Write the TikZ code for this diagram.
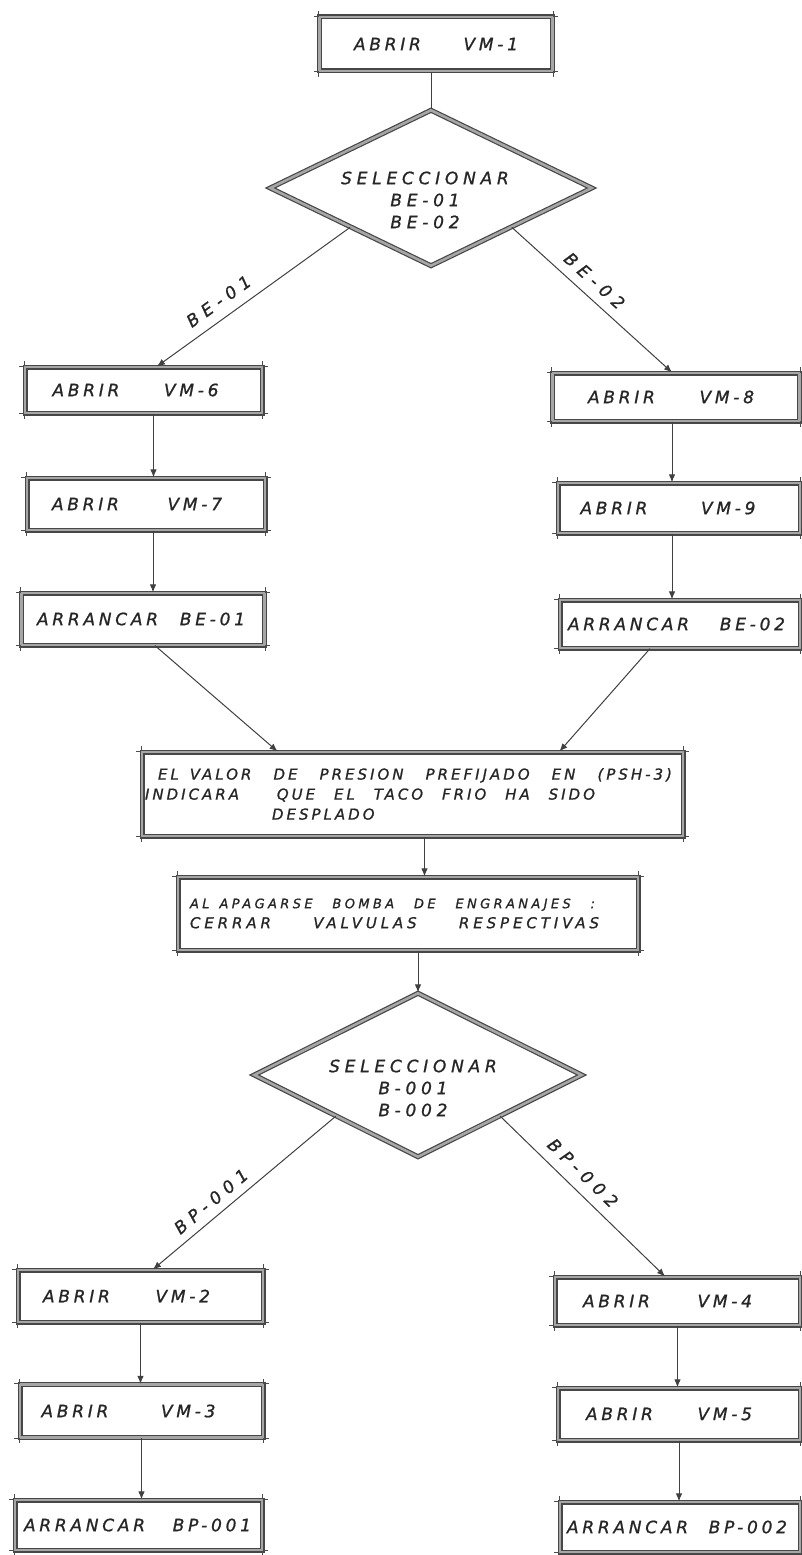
\documentclass[tikz,border=0pt]{standalone}
\usepackage{fontspec}
\setmainfont{DejaVu Sans}
\newfontfamily\stencil[LetterSpace=22,FakeBold=1]{DejaVu Sans}
\newfontfamily\stencilb[LetterSpace=20,FakeBold=1]{DejaVu Sans}
\newfontfamily\stencilc[LetterSpace=26,FakeBold=1]{DejaVu Sans}
\newfontfamily\stencildia[LetterSpace=28,FakeBold=1]{DejaVu Sans}
\newfontfamily\stencilwide[LetterSpace=36,FakeBold=1]{DejaVu Sans}
\usetikzlibrary{shapes.geometric,arrows.meta,calc}
\newcommand\sw[3][0pt]{\makebox[#2][s]{#3}\hspace*{#1}}
\begin{document}
\begin{tikzpicture}[x=1pt,y=-1pt]
\tikzset{
 ln/.style={draw=black!75, line width=1pt},
 arr/.style={ln, -{Latex[length=8pt,width=6.5pt]}},
 tick/.style={draw=black!70, line width=1pt},
 bx/.style 2 args={draw=black!72, line width=1.2pt, double=black!35, double distance=2.6pt, fill=white, inner sep=0pt, minimum width=#1, minimum height=#2, text=black!85, font=\stencil\itshape\fontsize{17}{20}\selectfont},
 dia/.style 2 args={shape=diamond, draw=black!72, line width=1.2pt, double=black!35, double distance=2.6pt, inner sep=0pt, minimum width=#1, minimum height=#2},
 dtxt/.style={align=center, text=black!85, font=\stencildia\itshape\fontsize{17}{22}\selectfont, inner sep=0pt},
 blab/.style={sloped, inner sep=0pt, text=black!85, font=\stencilwide\itshape\fontsize{17}{19}\selectfont},
}
\useasboundingbox[fill=white] (0,0) rectangle (802,1555);

% top
\node[bx={233pt}{54pt}] (vm1) at (436,44) {\sw{164pt}{ABRIR VM-1}};
\node[dia={322pt}{156pt}] (d1) at (431,188) {};
\node[dtxt] (d1t) at ([xshift=-6pt,yshift=-12pt]d1.center) {SELECCIONAR\\BE-01\\BE-02};

% left column 1
\node[bx={237pt}{46pt}] (vm6) at (143.5,390) {\sw[16pt]{166pt}{ABRIR VM-6}};
\node[bx={238pt}{52pt}] (vm7) at (146,504) {\sw[18pt]{170pt}{ABRIR VM-7}};
\node[bx={243pt}{52pt}] (be01) at (143,619) {\sw[4pt]{208pt}{ARRANCAR BE-01}};
% right column 1
\node[bx={247pt}{48pt}] (vm8) at (676,397) {\sw[10pt]{166pt}{ABRIR VM-8}};
\node[bx={242pt}{50pt}] (vm9) at (679,508) {\sw[22pt]{175pt}{ABRIR VM-9}};
\node[bx={240pt}{48pt}] (be02) at (680,624) {\sw[7pt]{217pt}{ARRANCAR BE-02}};

% middle boxes
\node[bx={541pt}{84pt}, text width=535pt, align=left, font=\stencilb\itshape\fontsize{15}{20}\selectfont] (b1) at (412.5,794)
 {\hspace*{13pt}\makebox[514pt][s]{EL\hspace{11pt}VALOR\hfill DE\hfill PRESION\hfill PREFIJADO\hfill EN\hfill (PSH-3)}\\
  \makebox[450pt][s]{INDICARA\hfill\hfill QUE\hfill EL\hfill TACO\hfill FRIO\hfill HA\hfill SIDO}\\
  \hspace*{127pt}DESPLADO};
\node[bx={460pt}{73pt}, text width=436pt, align=left, font=\stencilc\itshape\fontsize{15}{20}\selectfont] (b2) at (408,913.5)
 {{\fontsize{13}{20}\selectfont\makebox[405pt][s]{AL\hspace{10pt}APAGARSE\hfill BOMBA\hfill DE\hfill ENGRANAJES\hfill :}}\\
  \makebox[409pt][s]{CERRAR\hfill VALVULAS\hfill RESPECTIVAS}};

\node[dia={328pt}{164pt}] (d2) at (418,1075) {};
\node[dtxt] (d2t) at ([xshift=-5pt,yshift=-13pt]d2.center) {SELECCIONAR\\B-001\\B-002};

% bottom left
\node[bx={245pt}{52pt}] (vm2) at (140.5,1296) {\sw[28pt]{167pt}{ABRIR VM-2}};
\node[bx={243pt}{53pt}] (vm3) at (141.5,1411) {\sw[26pt]{174pt}{ABRIR VM-3}};
\node[bx={247pt}{50pt}] (bp001) at (138.5,1525) {\sw[2pt]{227pt}{ARRANCAR BP-001}};
% bottom right
\node[bx={245pt}{48pt}] (vm4) at (677.5,1301) {\sw[20pt]{169pt}{ABRIR VM-4}};
\node[bx={242pt}{52pt}] (vm5) at (679,1414) {\sw[20pt]{166pt}{ABRIR VM-5}};
\node[bx={240pt}{50pt}] (bp002) at (680,1527) {\sw[6pt]{220pt}{ARRANCAR BP-002}};

% corner overshoots of the hand-drawn boxes
\foreach \n in {vm1,vm6,vm7,be01,vm8,vm9,be02,b1,b2,vm2,vm3,bp001,vm4,vm5,bp002}{
  \draw[tick] (\n.north west) -- ++(-5pt,0pt) (\n.north west) -- ++(0pt,5pt)
              (\n.north east) -- ++(5pt,0pt) (\n.north east) -- ++(0pt,5pt)
              (\n.south west) -- ++(-5pt,0pt) (\n.south west) -- ++(0pt,-5pt)
              (\n.south east) -- ++(5pt,0pt) (\n.south east) -- ++(0pt,-5pt);
}

% connectors
\draw[ln] (d1.north |- vm1.south) -- (d1.north);
\draw[arr] (d1.south west) -- node[blab,pos=0.63,above=10pt]{BE-01} ([xshift=13.5pt]vm6.north);
\draw[arr] (d1.south east) -- node[blab,pos=0.45,above=9pt]{BE-02} ([xshift=-4pt]vm8.north);
\draw[arr] ([xshift=10pt]vm6.south) -- ([xshift=10pt]vm6.south |- vm7.north);
\draw[arr] ([xshift=7pt]vm7.south) -- ([xshift=7pt]vm7.south |- be01.north);
\draw[arr] ([xshift=-4pt]vm8.south) -- ([xshift=-4pt]vm8.south |- vm9.north);
\draw[arr] ([xshift=-7pt]vm9.south) -- ([xshift=-7pt]vm9.south |- be02.north);
\draw[arr] ([xshift=12pt]be01.south) -- ([xshift=-135pt]b1.north);
\draw[arr] ([xshift=-30pt]be02.south) -- ([xshift=147pt]b1.north);
\draw[arr] ([xshift=12pt]b1.south) -- ([xshift=12pt]b1.south |- b2.north);
\draw[arr] (d2.north |- b2.south) -- (d2.north);
\draw[arr] (d2.south west) -- node[blab,pos=0.63,above=8pt]{BP-001} ([xshift=12.5pt]vm2.north);
\draw[arr] (d2.south east) -- node[blab,pos=0.43,above=10pt]{BP-002} ([xshift=-12.5pt]vm4.north);
\draw[arr] (vm2.south) -- (vm2.south |- vm3.north);
\draw[arr] (vm3.south) -- (vm3.south |- bp001.north);
\draw[arr] (vm4.south) -- (vm4.south |- vm5.north);
\draw[arr] (vm5.south) -- (vm5.south |- bp002.north);
\end{tikzpicture}
\end{document}
